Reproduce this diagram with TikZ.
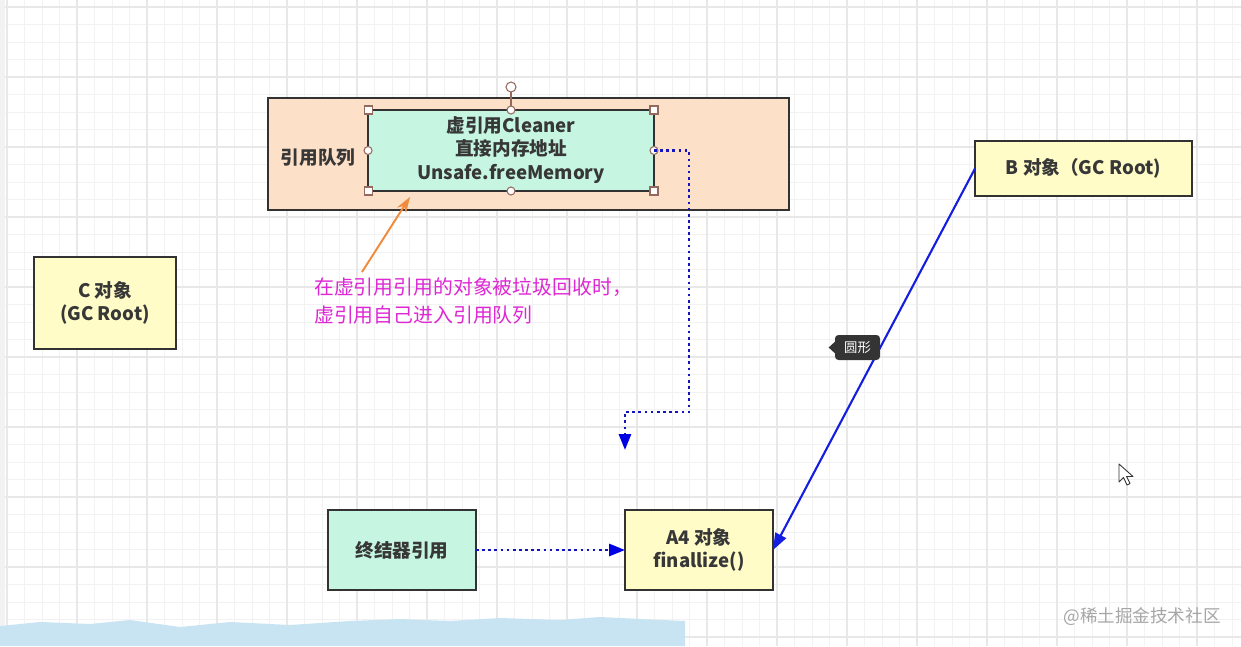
\documentclass[tikz,border=0pt]{standalone}
\usepackage{fontspec}
\setmainfont{Noto Sans CJK SC}
\usetikzlibrary{arrows.meta,calc}
\definecolor{boxline}{RGB}{50,50,50}
\definecolor{boxtext}{RGB}{55,55,55}
\definecolor{peach}{RGB}{253,224,200}
\definecolor{mint}{RGB}{198,245,226}
\definecolor{paleyellow}{RGB}{255,252,200}
\definecolor{noteorange}{RGB}{240,138,60}
\definecolor{notemagenta}{RGB}{222,40,212}
\definecolor{refblue}{RGB}{20,20,190}
\definecolor{rootblue}{RGB}{20,30,225}
\definecolor{handle}{RGB}{150,105,95}
\definecolor{tipgray}{RGB}{52,52,52}
\definecolor{minorline}{RGB}{242,242,242}
\definecolor{majorline}{RGB}{232,232,232}
\definecolor{wave}{RGB}{200,228,242}
\begin{document}
\begin{tikzpicture}[x=0.02cm,y=-0.02cm,
    box/.style={draw=boxline,line width=1.1pt,outer sep=0pt,inner sep=0pt,
      align=center,text=boxtext,font=\fontsize{10.6}{13.5}\selectfont\bfseries},
    queuebox/.style={box,fill=peach,minimum width=10.42cm,minimum height=2.24cm},
    cleanerbox/.style={box,fill=mint,minimum width=5.72cm,minimum height=1.62cm},
    finalbox/.style={box,fill=mint,minimum width=2.96cm,minimum height=1.6cm},
    objbox/.style={box,fill=paleyellow},
    grab/.style={draw=handle,fill=white,line width=0.6pt},
    refline/.style={draw=refblue,line width=1.5pt,dotted,
      -{Triangle[length=9pt,width=6.8pt,fill=blue!90!black,color=blue!90!black]}},
    rootline/.style={draw=rootblue,line width=1.2pt,
      -{Triangle[length=9.5pt,width=6.8pt]}},
    notearrow/.style={draw=noteorange,line width=1.1pt,
      -{Stealth[length=9pt,width=6pt]}}]
  \useasboundingbox (0,0) rectangle (1241,646);
  \fill[white] (0,0) rectangle (1241,646);
  \fill[minorline] (0,0) rectangle (5,646);
  % grid
  \foreach \i in {0,...,70} {
    \pgfmathsetmacro\gx{7+17.5*\i}
    \draw[minorline,line width=0.5pt] (\gx,0) -- (\gx,646);
  }
  \foreach \i in {0,...,36} {
    \pgfmathsetmacro\gy{7+17.5*\i}
    \draw[minorline,line width=0.5pt] (5,\gy) -- (1241,\gy);
  }
  \foreach \gx in {7,77,...,1241}
    \draw[majorline,line width=0.6pt] (\gx,0) -- (\gx,646);
  \foreach \gy in {7,77,...,646}
    \draw[majorline,line width=0.6pt] (5,\gy) -- (1241,\gy);

  \node[queuebox] (queue) at (528.5,154) {};
  \node[text=boxtext,font=\fontsize{10.6}{13.5}\selectfont\bfseries] (queuelabel) at (318,158) {引用队列};
  \node[cleanerbox,text depth=0.1cm] (cleaner) at (511,150.5) {虚引用Cleaner\\直接内存地址\\Unsafe.freeMemory};
  \node[objbox,minimum width=2.84cm,minimum height=1.84cm] (c) at (105,303) {C 对象\\(GC Root)};
  \node[objbox,minimum width=4.34cm,minimum height=1.1cm] (b) at (1083.5,168.5) {B 对象（GC Root)};
  \node[finalbox] (finalizer) at (402,550) {终结器引用};
  \node[objbox,minimum width=2.96cm,minimum height=1.6cm] (a4) at (699,550) {A4 对象\\finallize()};
  \node[anchor=west,align=left,text=notemagenta,font=\fontsize{11.3}{15.9}\selectfont] (note) at (308,301)
    {在虚引用引用的对象被垃圾回收时，\\虚引用自己进入引用队列};
  \coordinate (notetip) at (362,272);

  % selection handles
  \draw[handle,line width=0.8pt] (cleaner.north) -- ++(0,-18);
  \draw[grab] ($(cleaner.north)+(0,-23)$) circle (5);
  \foreach \a in {north west,north east,south west,south east}
    \draw[grab] ($(cleaner.\a)+(-4,-4)$) rectangle ++(8,8);
  \foreach \a in {north,south,west,east}
    \draw[grab] (cleaner.\a) circle (4);

  \begin{scope}
    \draw[notearrow] (notetip) -- ([xshift=0.84cm,yshift=-0.12cm]cleaner.south west);
    \draw[refline] (cleaner.east) -- ++(35,0) -- ++(0,261.5) -- ++(-64,0) -- ++(0,38);
    \draw[refline] (finalizer.east) -- (a4.west);
    \draw[rootline] (b.west) -- (a4.east);
  \end{scope}

  % tooltip
  \node[fill=tipgray,rounded corners=2pt,text=white,minimum width=0.9cm,minimum height=0.5cm,
    inner sep=0pt,font=\fontsize{7.6}{9}\selectfont] (tip) at (857.5,347.5) {圆形};
  \fill[tipgray] ($(tip.west)+(0.5,-6)$) -- ++(-6.5,6) -- ++(6.5,6) -- cycle;

  % cursor
  \draw[fill=white,draw=boxline,line width=0.5pt,line join=round]
    (1119,464) -- ++(0,18) -- ++(4.5,-4.5) -- ++(3.5,7.5) -- ++(3,-1.5) -- ++(-3.5,-7)
    -- ++(6.5,0) -- cycle;

  % bottom band and watermark
  \fill[wave] (0,646) -- (0,626) -- (40,622) -- (90,624) -- (130,620) -- (180,627)
    -- (230,622) -- (290,625) -- (350,621) -- (400,619) -- (450,621) -- (500,618)
    -- (560,620) -- (600,617) -- (640,619) -- (685,621) -- (685,646) -- cycle;
  \node[text=black!35,font=\fontsize{10}{12}\selectfont] (mark) at (1142,617) {@稀土掘金技术社区};
\end{tikzpicture}
\end{document}
